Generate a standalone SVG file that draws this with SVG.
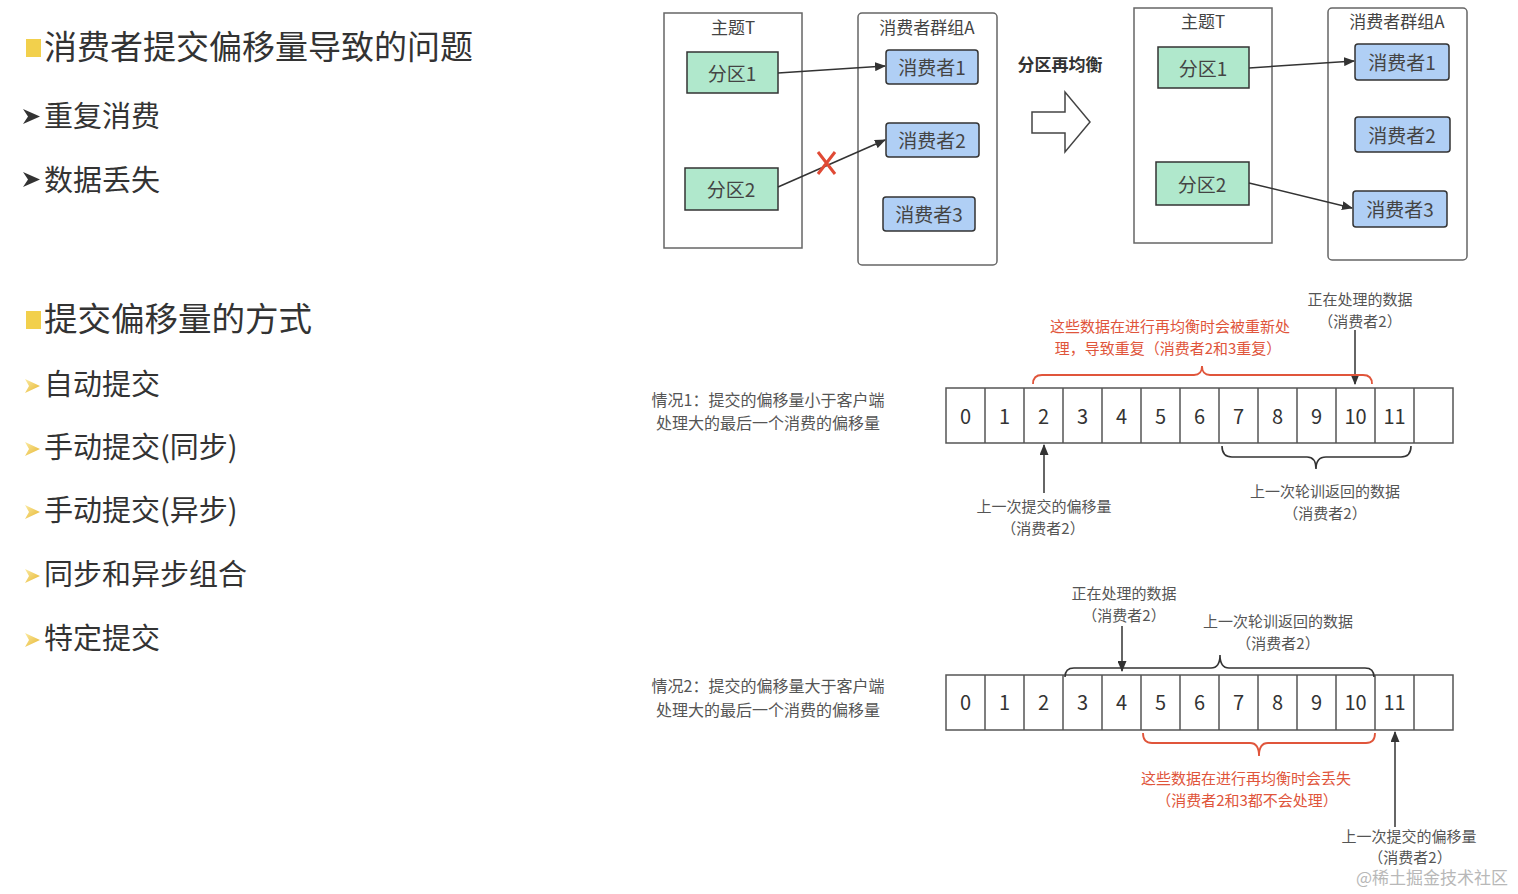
<svg xmlns="http://www.w3.org/2000/svg" width="1518" height="894" viewBox="0 0 1518 894">
<defs>
<style>
text{font-family:"Noto Sans CJK SC","Noto Sans",sans-serif;dominant-baseline:central;text-anchor:middle}
.lt{text-anchor:start;fill:#333}
.h1{font-size:33px}
.li{font-size:29px}
.d{fill:#444}
.lbl{font-size:17px}
.nd{font-size:19px}
.sm{font-size:15px;fill:#555}
.red{font-size:15px;fill:#e0553b}
.num{font-family:"Noto Sans","DejaVu Sans",sans-serif;font-size:20px;fill:#333}
.outer{fill:#fff;stroke:#666;stroke-width:1.5}
.green{fill:#b0e8cc;stroke:#333;stroke-width:1.5}
.blue{fill:#b0cff5;stroke:#333;stroke-width:1.5}
.arr{stroke:#333;stroke-width:1.5;fill:none;marker-end:url(#ah)}
.cell{fill:#fff;stroke:#555;stroke-width:1.5}
.brR{fill:none;stroke:#e0553b;stroke-width:1.8}
.brK{fill:none;stroke:#333;stroke-width:1.6}
</style>
<marker id="ah" markerWidth="11" markerHeight="9" refX="10" refY="4.5" orient="auto" markerUnits="userSpaceOnUse">
<path d="M0,0 L11,4.5 L0,9 Z" fill="#333"/>
</marker>
<linearGradient id="yg" x1="0" y1="0" x2="1" y2="1">
<stop offset="0" stop-color="#fbeaa0"/>
<stop offset="1" stop-color="#e6b530"/>
</linearGradient>
</defs>

<g id="left-text">
<rect x="26" y="39" width="15" height="18" fill="#f2d04c"/>
<text class="lt h1" x="44" y="45">消费者提交偏移量导致的问题</text>
<path d="M23,109 L40,116.5 L23,124 L28,116.5 Z" fill="#333"/>
<text class="lt li" x="44" y="114">重复消费</text>
<path d="M23,172 L40,179.5 L23,187 L28,179.5 Z" fill="#333"/>
<text class="lt li" x="44" y="178">数据丢失</text>
<rect x="26" y="311" width="15" height="18" fill="#f2d04c"/>
<text class="lt h1" x="44" y="317" textLength="268" lengthAdjust="spacingAndGlyphs">提交偏移量的方式</text>
<path d="M25,379 L40,386 L25,393 L29,386 Z" fill="url(#yg)"/>
<text class="lt li" x="44" y="382">自动提交</text>
<path d="M25,442 L40,449 L25,456 L29,449 Z" fill="url(#yg)"/>
<text class="lt li" x="44" y="445">手动提交(同步)</text>
<path d="M25,505 L40,512 L25,519 L29,512 Z" fill="url(#yg)"/>
<text class="lt li" x="44" y="508">手动提交(异步)</text>
<path d="M25,569 L40,576 L25,583 L29,576 Z" fill="url(#yg)"/>
<text class="lt li" x="44" y="572">同步和异步组合</text>
<path d="M25,633 L40,640 L25,647 L29,640 Z" fill="url(#yg)"/>
<text class="lt li" x="44" y="636">特定提交</text>
</g>

<!-- Before rebalance -->
<g id="topicT-1"><rect class="outer" x="664" y="13" width="138" height="235"/><text class="lbl d" x="733" y="26">主题T</text></g>
<g id="groupA-1"><rect class="outer" x="858" y="13" width="139" height="252" rx="4"/><text class="lbl d" x="927" y="26">消费者群组A</text></g>
<g id="p1-1"><rect class="green" x="687" y="52" width="91" height="41"/><text class="nd d" x="732" y="72">分区1</text></g>
<g id="p2-1"><rect class="green" x="685" y="168" width="93" height="42"/><text class="nd d" x="731" y="188">分区2</text></g>
<g id="c1-1"><rect class="blue" x="886" y="50" width="92" height="34" rx="3"/><text class="nd d" x="932" y="66">消费者1</text></g>
<g id="c2-1"><rect class="blue" x="886" y="123" width="93" height="34" rx="3"/><text class="nd d" x="932" y="139">消费者2</text></g>
<g id="c3-1"><rect class="blue" x="883" y="197" width="92" height="34" rx="3"/><text class="nd d" x="929" y="213">消费者3</text></g>

<g id="rebalance">
<text x="1060" y="63" style="font-size:17px;font-weight:bold;fill:#333">分区再均衡</text>
<path d="M1032,112 L1065,112 L1065,92 L1090,122 L1065,152 L1065,133 L1032,133 Z" fill="#fff" stroke="#444" stroke-width="1.5"/>
</g>

<!-- After rebalance -->
<g id="topicT-2"><rect class="outer" x="1134" y="8" width="138" height="235"/><text class="lbl d" x="1203" y="20">主题T</text></g>
<g id="groupA-2"><rect class="outer" x="1328" y="8" width="139" height="252" rx="4"/><text class="lbl d" x="1397" y="20">消费者群组A</text></g>
<g id="p1-2"><rect class="green" x="1158" y="47" width="91" height="41"/><text class="nd d" x="1203" y="67">分区1</text></g>
<g id="p2-2"><rect class="green" x="1156" y="162" width="93" height="43"/><text class="nd d" x="1202" y="183">分区2</text></g>
<g id="c1-2"><rect class="blue" x="1355" y="44" width="94" height="36" rx="3"/><text class="nd d" x="1402" y="61">消费者1</text></g>
<g id="c2-2"><rect class="blue" x="1355" y="117" width="95" height="35" rx="3"/><text class="nd d" x="1402" y="134">消费者2</text></g>
<g id="c3-2"><rect class="blue" x="1353" y="191" width="94" height="36" rx="3"/><text class="nd d" x="1400" y="208">消费者3</text></g>

<g id="connectors">
<line class="arr" x1="778" y1="73" x2="885" y2="66"/>
<line class="arr" x1="778" y1="187" x2="885" y2="140"/>
<path d="M818,152 L835,174 M835,152 L818,174" stroke="#e04a35" stroke-width="3" fill="none"/>
<line class="arr" x1="1249" y1="68" x2="1354" y2="61"/>
<line class="arr" x1="1249" y1="183" x2="1352" y2="208"/>
<line class="arr" x1="1355" y1="330" x2="1355" y2="384"/>
<line class="arr" x1="1044" y1="493" x2="1044" y2="445"/>
<line class="arr" x1="1122" y1="626" x2="1122" y2="671"/>
<line class="arr" x1="1395" y1="827" x2="1395" y2="732"/>
</g>

<!-- Case 1 -->
<g id="case1">
<text class="sm" x="768" y="399" style="font-size:16px">情况1：提交的偏移量小于客户端</text>
<text class="sm" x="768" y="422" style="font-size:16px">处理大的最后一个消费的偏移量</text>
<rect class="cell" x="946" y="388" width="507" height="55"/>
<path d="M985,388V443M1024,388V443M1063,388V443M1102,388V443M1141,388V443M1180,388V443M1219,388V443M1258,388V443M1297,388V443M1336,388V443M1375,388V443M1414,388V443" stroke="#555" stroke-width="1.5"/>
<g class="num">
<text x="965.5" y="415">0</text><text x="1004.5" y="415">1</text><text x="1043.5" y="415">2</text><text x="1082.5" y="415">3</text><text x="1121.5" y="415">4</text><text x="1160.5" y="415">5</text><text x="1199.5" y="415">6</text><text x="1238.5" y="415">7</text><text x="1277.5" y="415">8</text><text x="1316.5" y="415">9</text><text x="1355.5" y="415">10</text><text x="1394.5" y="415">11</text>
</g>
<path class="brR" d="M1033,384 Q1033,375 1042,375 L1194,375 Q1202,375 1202,366 Q1202,375 1210,375 L1363,375 Q1372,375 1372,384"/>
<text class="red" x="1170" y="325">这些数据在进行再均衡时会被重新处</text>
<text class="red" x="1168" y="347">理，导致重复（消费者2和3重复）</text>
<text class="sm" x="1360" y="298">正在处理的数据</text>
<text class="sm" x="1360" y="320">（消费者2）</text>
<path class="brK" d="M1222,446 Q1222,457 1232,457 L1307,457 Q1316,457 1316,469 Q1316,457 1326,457 L1401,457 Q1411,457 1411,446"/>
<text class="sm" x="1325" y="490">上一次轮训返回的数据</text>
<text class="sm" x="1325" y="512">（消费者2）</text>
<text class="sm" x="1044" y="505">上一次提交的偏移量</text>
<text class="sm" x="1043" y="527">（消费者2）</text>
</g>

<!-- Case 2 -->
<g id="case2">
<text class="sm" x="768" y="685" style="font-size:16px">情况2：提交的偏移量大于客户端</text>
<text class="sm" x="768" y="709" style="font-size:16px">处理大的最后一个消费的偏移量</text>
<rect class="cell" x="946" y="675" width="507" height="55"/>
<path d="M985,675V730M1024,675V730M1063,675V730M1102,675V730M1141,675V730M1180,675V730M1219,675V730M1258,675V730M1297,675V730M1336,675V730M1375,675V730M1414,675V730" stroke="#555" stroke-width="1.5"/>
<g class="num">
<text x="965.5" y="701">0</text><text x="1004.5" y="701">1</text><text x="1043.5" y="701">2</text><text x="1082.5" y="701">3</text><text x="1121.5" y="701">4</text><text x="1160.5" y="701">5</text><text x="1199.5" y="701">6</text><text x="1238.5" y="701">7</text><text x="1277.5" y="701">8</text><text x="1316.5" y="701">9</text><text x="1355.5" y="701">10</text><text x="1394.5" y="701">11</text>
</g>
<text class="sm" x="1124" y="592">正在处理的数据</text>
<text class="sm" x="1124" y="614">（消费者2）</text>
<text class="sm" x="1278" y="620">上一次轮训返回的数据</text>
<text class="sm" x="1278" y="642">（消费者2）</text>
<path class="brK" d="M1065,677 Q1065,668 1074,668 L1211,668 Q1220,668 1220,655 Q1220,668 1229,668 L1365,668 Q1374,668 1374,677"/>
<path class="brR" d="M1143,733 Q1143,743 1152,743 L1250,743 Q1259,743 1259,756 Q1259,743 1268,743 L1366,743 Q1375,743 1375,733"/>
<text class="red" x="1246" y="777">这些数据在进行再均衡时会丢失</text>
<text class="red" x="1247" y="799">（消费者2和3都不会处理）</text>
<text class="sm" x="1409" y="835">上一次提交的偏移量</text>
<text class="sm" x="1410" y="856">（消费者2）</text>
</g>

<text x="1432" y="876" style="font-size:17px;fill:#b8b8b8">@稀土掘金技术社区</text>
</svg>
